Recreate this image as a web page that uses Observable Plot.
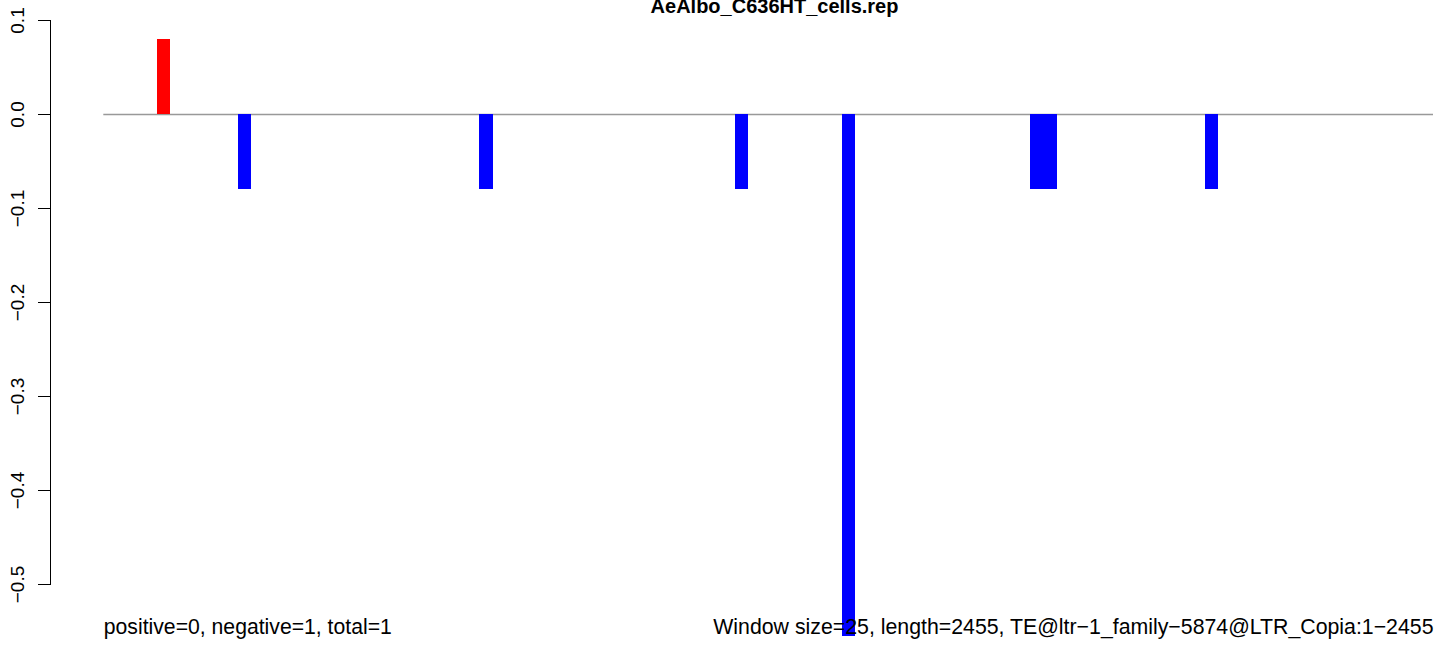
<!DOCTYPE html>
<html>
<head>
<meta charset="utf-8">
<script src="https://cdn.jsdelivr.net/npm/d3@7"></script>
<script src="https://cdn.jsdelivr.net/npm/@observablehq/plot@0.6"></script>
<style>
  html, body { margin: 0; padding: 0; background: #fff; }
  #chart svg { display: block; }
</style>
</head>
<body>
<div id="chart"></div>
<script>
// ---- data ----
const title = "AeAlbo_C636HT_cells.rep";
const windowSize = 25;
const seqLength = 2455;
const windowStarts = [100, 250, 700, 1175, 1375, 1725, 1750, 2050];
const windowValues = [0.08, -0.08, -0.08, -0.08, -0.555, -0.08, -0.08, -0.08];
const yTicks = [-0.5, -0.4, -0.3, -0.2, -0.1, 0.0, 0.1];
const leftNote = "positive=0, negative=1, total=1";
const rightNote = "Window size=25, length=2455, TE@ltr\u22121_family\u22125874@LTR_Copia:1\u22122455";

const nWindows = Math.ceil(seqLength / windowSize);
const xEnd = nWindows * windowSize;

const bars = windowStarts.map((s, i) => ({start: s, end: s + windowSize, value: windowValues[i]}));

const font = "'Liberation Sans', Arial, Helvetica, sans-serif";

const chart = Plot.plot({
  width: 1444,
  height: 648,
  marginTop: 20,
  marginBottom: 64,
  marginLeft: 50,
  marginRight: 0,
  style: {fontFamily: font, background: "#fff", color: "#000"},
  x: {domain: [0, xEnd], range: [103.3, 1433], axis: null},
  y: {domain: [-0.5, 0.1], ticks: yTicks, axis: null},
  marks: [
    Plot.ruleY([0], {x1: 0, x2: xEnd, stroke: "#999999", strokeWidth: 1.5}),
    Plot.rect(bars, {
      x1: "start", x2: "end", y1: 0, y2: "value",
      fill: d => d.value >= 0 ? "#FF0000" : "#0000FF",
      shapeRendering: "crispEdges"
    }),
    Plot.frame({anchor: "left", stroke: "#000", strokeWidth: 1}),
    Plot.axisY(yTicks, {
      anchor: "left",
      tickSize: 12,
      tickPadding: 15,
      tickRotate: -90,
      tickFormat: d3.format(".1f"),
      fontSize: 19,
      stroke: "#000",
      fill: "#000",
      label: null
    }),
    Plot.text([title], {
      frameAnchor: "top", lineAnchor: "bottom", dy: -8, dx: 27,
      fontWeight: "bold", fontSize: 20, fill: "#000"
    }),
    Plot.text([leftNote], {
      x: 0, frameAnchor: "bottom", textAnchor: "start", lineAnchor: "bottom",
      dy: 49, fontSize: 21.2, fill: "#000"
    }),
    Plot.text([rightNote], {
      x: xEnd, frameAnchor: "bottom", textAnchor: "end", lineAnchor: "bottom",
      dy: 49, fontSize: 21.3, fill: "#000"
    })
  ]
});
document.getElementById("chart").appendChild(chart);
</script>
</body>
</html>
